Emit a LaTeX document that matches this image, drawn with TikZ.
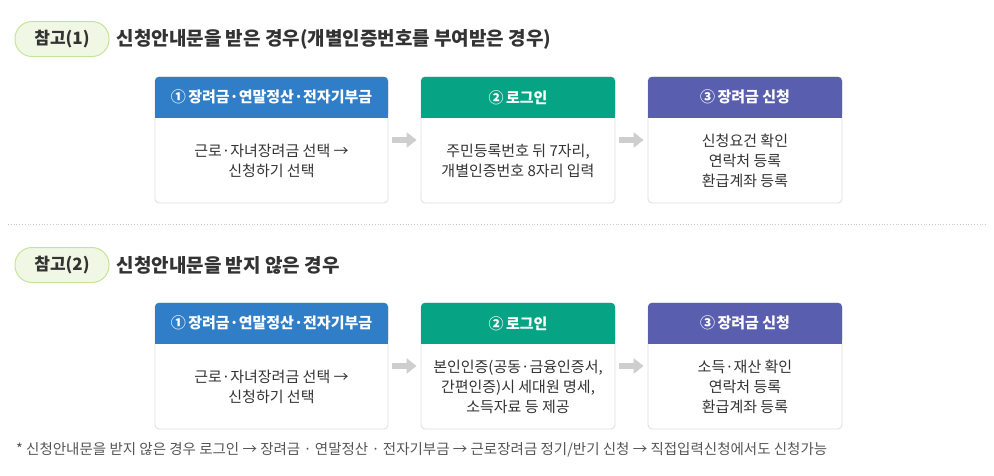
\documentclass[tikz,border=0pt]{standalone}
\usepackage{fontspec}
\setmainfont{Noto Sans CJK KR}
\usetikzlibrary{arrows.meta,positioning}

\definecolor{hdrblue}{RGB}{49,126,200}
\definecolor{hdrgreen}{RGB}{6,164,132}
\definecolor{hdrpurple}{RGB}{90,94,174}
\definecolor{pillfill}{RGB}{240,248,229}
\definecolor{pillline}{RGB}{197,229,150}
\definecolor{txtdark}{RGB}{51,51,51}
\definecolor{notegray}{RGB}{85,85,85}
\definecolor{framegray}{RGB}{221,221,221}
\definecolor{flowgray}{RGB}{206,206,206}

\begin{document}
\begin{tikzpicture}[x=1pt,y=-1pt,
	pill/.style={draw=pillline, line width=1pt, fill=pillfill, rounded corners=17pt, minimum width=94pt, minimum height=35pt, font=\fontsize{17}{17}\selectfont\bfseries, text=txtdark},
	ttl/.style={font=\fontsize{19}{19}\selectfont\bfseries, text=txtdark, inner sep=0pt, anchor=west},
	frame/.style={draw=framegray, line width=0.8pt, fill=white, rounded corners=4pt, minimum height=126pt},
	hdr/.style={anchor=north, text=white, minimum height=41pt, font=\fontsize{15}{15}\selectfont\bfseries, rounded corners=4pt, inner sep=0pt},
	body/.style={below=0pt of #1, minimum height=85pt, align=center, text=txtdark, font=\fontsize{15}{20}\selectfont, inner sep=0pt},
	flow/.style={flowgray, line width=6pt, -{Triangle[length=10pt,width=15pt]}, shorten <=4pt, shorten >=4pt}
]
\useasboundingbox (0,0) rectangle (994,475);

% Part 1
\node[pill] (p1) at (62,39) {참고(1)};
\node[ttl, right=7pt of p1] (ttl1) {신청안내문을 받은 경우(개별인증번호를 부여받은 경우)};

\node[frame, minimum width=233pt] (f1) at (271.5,140) {};
\node[frame, minimum width=194pt] (f2) at (518,140) {};
\node[frame, minimum width=194pt] (f3) at (745,140) {};

% square bottom corners of the headers
\fill[hdrblue] ([yshift=-20pt]f1.north west) rectangle ([yshift=-41pt]f1.north east);
\fill[hdrgreen] ([yshift=-20pt]f2.north west) rectangle ([yshift=-41pt]f2.north east);
\fill[hdrpurple] ([yshift=-20pt]f3.north west) rectangle ([yshift=-41pt]f3.north east);

\node[hdr, fill=hdrblue, minimum width=233pt] (h1) at (f1.north) {①\,장려금·연말정산·전자기부금};
\node[hdr, fill=hdrgreen, minimum width=194pt] (h2) at (f2.north) {②\,로그인};
\node[hdr, fill=hdrpurple, minimum width=194pt] (h3) at (f3.north) {③\,장려금 신청};

\node[body=h1] (b1) {근로·자녀장려금 선택 →\\신청하기 선택};
\node[body=h2] (b2) {주민등록번호 뒤 7자리,\\개별인증번호 8자리 입력};
\node[body=h3] (b3) {신청요건 확인\\연락처 등록\\환급계좌 등록};

\draw[flow] (f1) -- (f2);
\draw[flow] (f2) -- (f3);

% separator
\coordinate (sepL) at (8,224);
\coordinate (sepR) at (986,224);
\draw[framegray!80!gray, dotted, line width=0.8pt] (sepL) -- (sepR);

% Part 2
\node[pill] (p2) at (62,265) {참고(2)};
\node[ttl, right=7pt of p2] (ttl2) {신청안내문을 받지 않은 경우};

\node[frame, minimum width=233pt] (g1) at (271.5,366) {};
\node[frame, minimum width=194pt] (g2) at (518,366) {};
\node[frame, minimum width=194pt] (g3) at (745,366) {};

\fill[hdrblue] ([yshift=-20pt]g1.north west) rectangle ([yshift=-41pt]g1.north east);
\fill[hdrgreen] ([yshift=-20pt]g2.north west) rectangle ([yshift=-41pt]g2.north east);
\fill[hdrpurple] ([yshift=-20pt]g3.north west) rectangle ([yshift=-41pt]g3.north east);

\node[hdr, fill=hdrblue, minimum width=233pt] (k1) at (g1.north) {①\,장려금·연말정산·전자기부금};
\node[hdr, fill=hdrgreen, minimum width=194pt] (k2) at (g2.north) {②\,로그인};
\node[hdr, fill=hdrpurple, minimum width=194pt] (k3) at (g3.north) {③\,장려금 신청};

\node[body=k1] (c1) {근로·자녀장려금 선택 →\\신청하기 선택};
\node[body=k2] (c2) {본인인증(공동·금융인증서,\\간편인증)시 세대원 명세,\\소득자료 등 제공};
\node[body=k3] (c3) {소득·재산 확인\\연락처 등록\\환급계좌 등록};

\draw[flow] (g1) -- (g2);
\draw[flow] (g2) -- (g3);

\node[anchor=west, inner sep=0pt, text=notegray, font=\fontsize{14.5}{14.5}\selectfont] (note) at (16,450) {* 신청안내문을 받지 않은 경우 로그인 → 장려금 · 연말정산 · 전자기부금 → 근로장려금 정기/반기 신청 → 직접입력신청에서도 신청가능};
\end{tikzpicture}
\end{document}
